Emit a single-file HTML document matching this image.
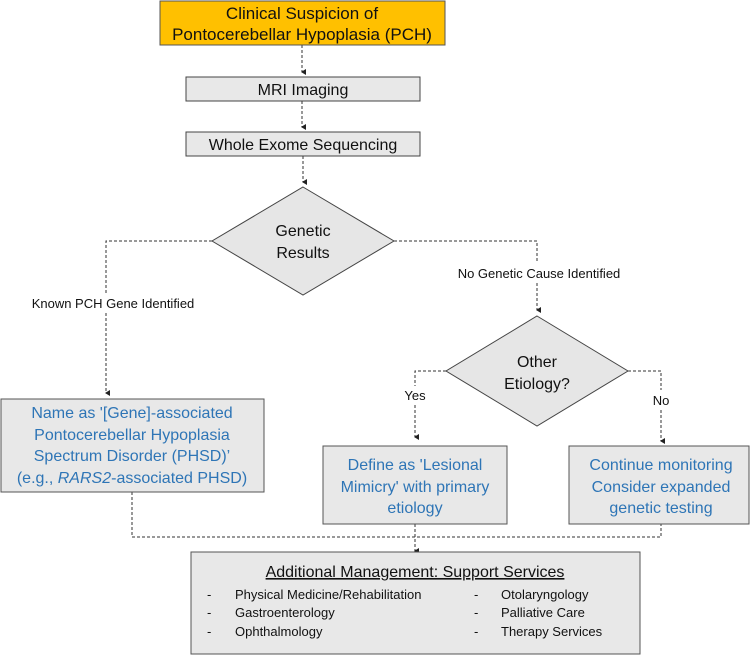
<!DOCTYPE html>
<html><head><meta charset="utf-8"><style>
html,body{margin:0;padding:0;background:#fff;}
svg{display:block;font-family:"Liberation Sans",sans-serif;}
</style></head><body>
<svg width="750" height="655" viewBox="0 0 750 655" xmlns="http://www.w3.org/2000/svg">
<defs><marker id="a" markerWidth="6" markerHeight="6" refX="3" refY="5" orient="auto" markerUnits="userSpaceOnUse"><path d="M0,1 L3,6 L6,1 z" fill="#222"/></marker></defs>
<g stroke="#333" stroke-width="1" stroke-dasharray="3,2" fill="none">
<path d="M302,45 V72" marker-end="url(#a)"/>
<path d="M302,101 V127" marker-end="url(#a)"/>
<path d="M303,156 V182" marker-end="url(#a)"/>
<path d="M212,241 H106 V293"/>
<path d="M106,313 V393" marker-end="url(#a)"/>
<path d="M394,241 H537 V262"/>
<path d="M537,283 V310" marker-end="url(#a)"/>
<path d="M446,371 H415 V386"/>
<path d="M415,405 V437" marker-end="url(#a)"/>
<path d="M628,371 H661 V390"/>
<path d="M661,410 V441" marker-end="url(#a)"/>
<path d="M132,492 V537 H661 V524"/>
<path d="M415,524 V551" marker-end="url(#a)"/>
</g>
<rect x="160" y="1" width="285" height="44" fill="#FFC000" stroke="#555"/>
<text x="302" y="19" font-size="17" text-anchor="middle" fill="#111">Clinical Suspicion of</text>
<text x="302" y="40" font-size="17" text-anchor="middle" fill="#111">Pontocerebellar Hypoplasia (PCH)</text>
<rect x="186" y="77" width="234" height="24" fill="#e8e8e8" stroke="#444"/>
<text x="303" y="95" font-size="16" text-anchor="middle" fill="#111">MRI Imaging</text>
<rect x="186" y="132" width="234" height="24" fill="#e8e8e8" stroke="#444"/>
<text x="303" y="150" font-size="16" text-anchor="middle" fill="#111">Whole Exome Sequencing</text>
<polygon points="303,187 394,241 303,295 212,241" fill="#e6e6e6" stroke="#444"/>
<text x="303" y="236" font-size="16" text-anchor="middle" fill="#111">Genetic</text>
<text x="303" y="258" font-size="16" text-anchor="middle" fill="#111">Results</text>
<text x="113" y="308" font-size="13" text-anchor="middle" fill="#111">Known PCH Gene Identified</text>
<text x="539" y="278" font-size="13" text-anchor="middle" fill="#111">No Genetic Cause Identified</text>
<polygon points="537,316 628,371 537,426 446,371" fill="#e6e6e6" stroke="#444"/>
<text x="537" y="367" font-size="16" text-anchor="middle" fill="#111">Other</text>
<text x="537" y="389" font-size="16" text-anchor="middle" fill="#111">Etiology?</text>
<text x="415" y="400" font-size="13" text-anchor="middle" fill="#111">Yes</text>
<text x="661" y="405" font-size="13" text-anchor="middle" fill="#111">No</text>
<g fill="#e8e8e8" stroke="#555">
<rect x="1" y="399" width="263" height="93"/>
<rect x="323" y="446" width="184" height="78"/>
<rect x="569" y="446" width="180" height="78"/>
<rect x="191" y="552" width="449" height="102"/>
</g>
<g font-size="16" text-anchor="middle" fill="#2E75B6">
<text x="132" y="418">Name as '[Gene]-associated</text>
<text x="132" y="440">Pontocerebellar Hypoplasia</text>
<text x="132" y="461">Spectrum Disorder (PHSD)’</text>
<text x="132" y="483">(e.g., <tspan font-style="italic">RARS2</tspan>-associated PHSD)</text>
<text x="415" y="470">Define as 'Lesional</text>
<text x="415" y="492">Mimicry' with primary</text>
<text x="415" y="513">etiology</text>
<text x="661" y="470">Continue monitoring</text>
<text x="661" y="492">Consider expanded</text>
<text x="661" y="513">genetic testing</text>
</g>
<text x="415" y="577" font-size="16" text-anchor="middle" fill="#111" text-decoration="underline">Additional Management: Support Services</text>
<g font-size="13" fill="#111">
<text x="207" y="599">-</text><text x="235" y="599">Physical Medicine/Rehabilitation</text>
<text x="207" y="617">-</text><text x="235" y="617">Gastroenterology</text>
<text x="207" y="636">-</text><text x="235" y="636">Ophthalmology</text>
<text x="474" y="599">-</text><text x="501" y="599">Otolaryngology</text>
<text x="474" y="617">-</text><text x="501" y="617">Palliative Care</text>
<text x="474" y="636">-</text><text x="501" y="636">Therapy Services</text>
</g>
</svg>
</body></html>
